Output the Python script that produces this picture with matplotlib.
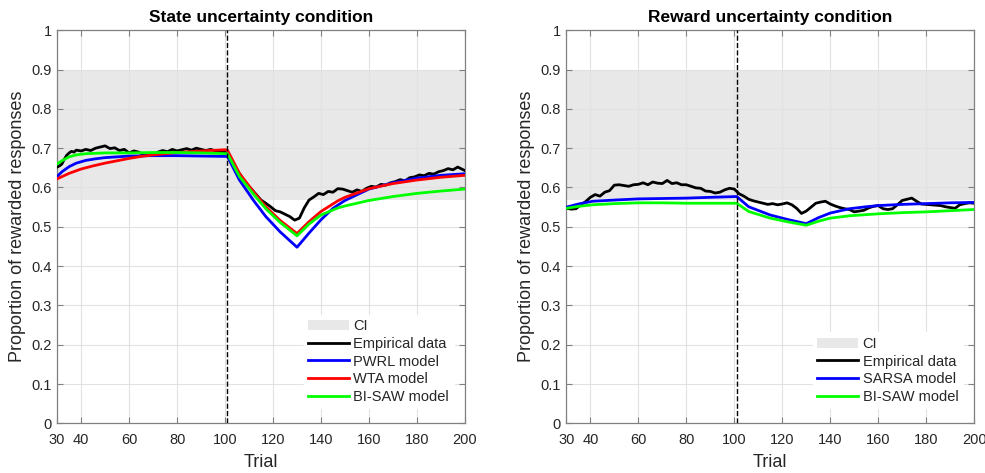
import numpy as np
import matplotlib
matplotlib.use('Agg')
import matplotlib.pyplot as plt

plt.rcParams['font.family'] = ['Liberation Sans', 'DejaVu Sans']

# ---- data ----
# State uncertainty condition
emp_l_x = [30, 31, 32, 33, 34, 35, 36, 37, 38, 40, 42, 44, 46, 48, 50, 52, 54, 56, 58, 60,
           62, 64, 66, 68, 70, 72, 74, 76, 78, 80, 82, 84, 86, 88, 90, 92, 94, 96, 98, 100,
           101, 103, 105, 107, 109, 111, 113, 115, 117, 119, 121, 123, 125, 127, 129, 131,
           133, 135, 137, 139, 141, 143, 145, 147, 149, 151, 153, 155, 157, 159, 161, 163,
           165, 167, 169, 171, 173, 175, 177, 179, 181, 183, 185, 187, 189, 191, 193, 195,
           197, 199, 200]
emp_l_y = [0.652, 0.655, 0.660, 0.672, 0.682, 0.688, 0.692, 0.690, 0.695, 0.693, 0.697, 0.694,
           0.700, 0.703, 0.706, 0.699, 0.701, 0.694, 0.697, 0.688, 0.693, 0.690, 0.684, 0.687,
           0.683, 0.690, 0.694, 0.691, 0.697, 0.693, 0.696, 0.699, 0.695, 0.700, 0.697, 0.694,
           0.697, 0.693, 0.691, 0.690, 0.686, 0.664, 0.645, 0.626, 0.608, 0.596, 0.582, 0.568,
           0.560, 0.551, 0.541, 0.538, 0.532, 0.526, 0.517, 0.522, 0.548, 0.568, 0.576, 0.585,
           0.582, 0.590, 0.588, 0.597, 0.596, 0.592, 0.588, 0.594, 0.590, 0.598, 0.603, 0.601,
           0.608, 0.606, 0.612, 0.615, 0.620, 0.617, 0.625, 0.627, 0.632, 0.630, 0.636, 0.634,
           0.640, 0.643, 0.648, 0.645, 0.652, 0.646, 0.643]

pwrl_x = [30, 32, 35, 38, 42, 46, 50, 55, 60, 70, 80, 90, 101, 106, 112, 117, 123, 130,
          135, 140, 145, 150, 160, 170, 180, 190, 200]
pwrl_y = [0.628, 0.640, 0.653, 0.662, 0.669, 0.673, 0.676, 0.678, 0.680, 0.681, 0.681, 0.680,
          0.679, 0.619, 0.566, 0.526, 0.487, 0.448, 0.484, 0.518, 0.547, 0.567, 0.596, 0.612,
          0.624, 0.631, 0.635]

wta_x = [30, 35, 40, 45, 50, 55, 60, 65, 70, 80, 90, 100, 101, 106, 112, 117, 123, 130,
         135, 140, 147, 150, 160, 170, 180, 190, 200]
wta_y = [0.622, 0.636, 0.647, 0.655, 0.662, 0.668, 0.674, 0.679, 0.683, 0.689, 0.693, 0.696,
         0.695, 0.636, 0.588, 0.551, 0.516, 0.483, 0.513, 0.539, 0.566, 0.575, 0.597, 0.610,
         0.619, 0.626, 0.631]

bisaw_l_x = [30, 32, 35, 38, 42, 46, 50, 60, 70, 80, 90, 101, 106, 112, 117, 123, 130,
             135, 140, 147, 150, 160, 170, 180, 190, 200]
bisaw_l_y = [0.660, 0.668, 0.678, 0.683, 0.686, 0.687, 0.688, 0.688, 0.689, 0.689, 0.688,
             0.686, 0.628, 0.582, 0.546, 0.511, 0.477, 0.507, 0.530, 0.548, 0.553, 0.567,
             0.577, 0.585, 0.591, 0.596]

# Reward uncertainty condition
emp_r_x = list(range(30, 201, 2))
emp_r_y = [0.547, 0.545, 0.546, 0.556, 0.564, 0.575, 0.582, 0.578, 0.588, 0.592, 0.606, 0.607,
           0.605, 0.603, 0.607, 0.608, 0.612, 0.607, 0.614, 0.611, 0.610, 0.618, 0.610, 0.612,
           0.607, 0.607, 0.603, 0.599, 0.598, 0.591, 0.590, 0.586, 0.588, 0.594, 0.598, 0.596,
           0.584, 0.578, 0.570, 0.566, 0.563, 0.560, 0.557, 0.559, 0.556, 0.558, 0.561, 0.556,
           0.547, 0.534, 0.540, 0.550, 0.560, 0.563, 0.565, 0.558, 0.553, 0.549, 0.546, 0.544,
           0.538, 0.540, 0.542, 0.548, 0.552, 0.554, 0.546, 0.544, 0.546, 0.556, 0.567, 0.570,
           0.573, 0.565, 0.558, 0.557, 0.556, 0.555, 0.554, 0.551, 0.549, 0.547, 0.556, 0.559,
           0.561, 0.560]

sarsa_x = [30, 35, 41, 50, 60, 70, 80, 90, 101, 106, 115, 122, 130, 135, 140, 148, 155,
           160, 170, 180, 190, 200]
sarsa_y = [0.550, 0.558, 0.565, 0.568, 0.571, 0.572, 0.573, 0.575, 0.577, 0.551, 0.530, 0.519,
           0.508, 0.523, 0.535, 0.546, 0.551, 0.554, 0.557, 0.559, 0.561, 0.562]

bisaw_r_x = [30, 35, 41, 50, 60, 70, 80, 90, 101, 106, 115, 122, 130, 135, 140, 148, 155,
             160, 170, 180, 190, 200]
bisaw_r_y = [0.547, 0.552, 0.556, 0.559, 0.561, 0.561, 0.560, 0.560, 0.560, 0.539, 0.522, 0.513,
             0.504, 0.514, 0.522, 0.528, 0.531, 0.533, 0.536, 0.538, 0.541, 0.544]

ci_low = 0.567
ci_high = 0.9
switch_trial = 101
xticks = [30, 40, 60, 80, 100, 120, 140, 160, 180, 200]
yticks = np.round(np.arange(0, 1.01, 0.1), 1)
ytick_labels = ['0', '0.1', '0.2', '0.3', '0.4', '0.5', '0.6', '0.7', '0.8', '0.9', '1']

# ---- plotting ----
fig = plt.figure(figsize=(9.85, 4.73), dpi=100)
ax1 = fig.add_axes([0.058, 0.105, 0.414, 0.831])
ax2 = fig.add_axes([0.575, 0.105, 0.414, 0.831])

tick_col = '#262626'


def style_axes(ax, title):
    ax.set_xlim(30, 200)
    ax.set_ylim(0, 1)
    ax.set_xticks(xticks)
    ax.set_yticks(yticks)
    ax.set_yticklabels(ytick_labels)
    ax.grid(True, color='#e2e2e2', linewidth=0.8)
    ax.tick_params(direction='in', top=True, right=True, length=4, width=0.8,
                   color='#808080', labelsize=10.5, labelcolor=tick_col)
    ax.tick_params(axis='x', pad=7)
    ax.tick_params(axis='y', pad=4)
    for s in ax.spines.values():
        s.set_color('#808080')
        s.set_linewidth(0.9)
    ax.set_xlabel('Trial', fontsize=13, color=tick_col, labelpad=5)
    ax.set_ylabel('Proportion of rewarded responses', fontsize=13, color=tick_col, labelpad=4)
    ax.set_title(title, fontsize=12.5, fontweight='bold', color='k', pad=6)


for ax in (ax1, ax2):
    ax.fill_between([30, 200], ci_low, ci_high, color='#e8e8e8', linewidth=0, label='CI',
                    zorder=1)

ax1.plot(emp_l_x, emp_l_y, color='k', lw=2, label='Empirical data', zorder=3)
ax1.plot(pwrl_x, pwrl_y, color='#0000ff', lw=2, label='PWRL model', zorder=3)
ax1.plot(wta_x, wta_y, color='#ff0000', lw=2, label='WTA model', zorder=3)
ax1.plot(bisaw_l_x, bisaw_l_y, color='#00ff00', lw=2, label='BI-SAW model', zorder=3)

ax2.plot(emp_r_x, emp_r_y, color='k', lw=2, label='Empirical data', zorder=3)
ax2.plot(sarsa_x, sarsa_y, color='#0000ff', lw=2, label='SARSA model', zorder=3)
ax2.plot(bisaw_r_x, bisaw_r_y, color='#00ff00', lw=2, label='BI-SAW model', zorder=3)

for ax in (ax1, ax2):
    ax.axvline(switch_trial, color='k', ls='--', lw=1, zorder=4)

style_axes(ax1, 'State uncertainty condition')
style_axes(ax2, 'Reward uncertainty condition')

for ax in (ax1, ax2):
    leg = ax.legend(loc='lower right', bbox_to_anchor=(0.99, 0.02), fontsize=10.5,
                    frameon=True, fancybox=False, edgecolor='white', framealpha=1,
                    handlelength=2.8, handletextpad=0.3, labelspacing=0.25,
                    borderpad=0.3)
    for t in leg.get_texts():
        t.set_color(tick_col)

fig.savefig('out.png', dpi=100)
